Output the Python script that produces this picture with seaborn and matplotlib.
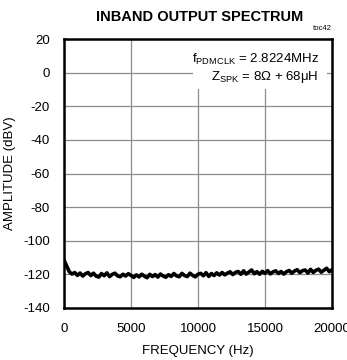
import matplotlib
matplotlib.use("Agg")
import matplotlib.pyplot as plt
import seaborn as sns
import pandas as pd

# Frequency (Hz) and amplitude (dBV)
freq_hz = list(range(0, 20001, 200))
amplitude_dbv = [
    -111.5, -115.0, -118.5, -119.8, -118.9, -120.6, -119.2, -121.0, -119.6, -118.9,
    -120.7, -119.3, -121.1, -121.6, -119.5, -120.8, -119.1, -121.3, -120.0, -119.3,
    -120.9, -121.4, -119.9, -121.0, -119.6, -120.6, -121.8, -120.3, -121.5, -119.9,
    -121.1, -122.0, -120.0, -121.3, -120.1, -121.6, -119.8, -121.0, -121.7, -120.2,
    -121.2, -119.5, -120.9, -121.4, -119.4, -120.7, -121.3, -119.3, -120.6, -121.5,
    -119.9, -119.4, -120.8, -119.0, -121.2, -119.5, -120.7, -119.1, -120.4, -118.9,
    -120.3, -119.2, -118.5, -120.1, -118.8, -118.3, -119.9, -117.9, -119.8, -118.6,
    -117.4, -119.6, -118.4, -119.9, -118.2, -119.4, -117.8, -119.7, -118.5, -117.9,
    -119.5, -118.3, -119.8, -118.4, -117.7, -119.3, -118.0, -117.2, -119.0, -117.8,
    -117.4, -119.2, -117.0, -118.8, -117.6, -116.9, -118.7, -117.5, -116.4, -118.4,
    -117.2,
]
x_ticks = [0, 5000, 10000, 15000, 20000]
y_ticks = [-140, -120, -100, -80, -60, -40, -20, 0, 20]

df = pd.DataFrame({"freq": freq_hz, "amp": amplitude_dbv})

sns.set_theme(style="white")
plt.rcParams['font.family'] = ['Liberation Sans', 'DejaVu Sans']
plt.rcParams['text.color'] = 'black'
plt.rcParams['axes.labelcolor'] = 'black'
plt.rcParams['xtick.color'] = 'black'
plt.rcParams['ytick.color'] = 'black'

fig = plt.figure(figsize=(3.47, 3.60), dpi=100)
ax = fig.add_axes([64/347, 1 - 308/360, (332-64)/347, (308-39)/360])

sns.lineplot(data=df, x="freq", y="amp", ax=ax, color="black", linewidth=2.6, zorder=3)

ax.set_xlim(0, 20000)
ax.set_ylim(-140, 20)
ax.set_xticks(x_ticks)
ax.set_yticks(y_ticks)
ax.set_xticklabels([str(v) for v in x_ticks], fontsize=9.5)
ax.set_yticklabels([str(v) for v in y_ticks], fontsize=9.5)
ax.tick_params(axis='x', length=0, pad=11)
ax.tick_params(axis='y', length=0, pad=10)
ax.grid(True, color="#8c8c8c", linewidth=0.9)
ax.set_axisbelow(True)
for s in ax.spines.values():
    s.set_color("black")
    s.set_linewidth(1.8)

ax.set_xlabel("FREQUENCY (Hz)", fontsize=9.5, labelpad=7)
ax.set_ylabel("AMPLITUDE (dBV)", fontsize=9.5, labelpad=5)

fig.text(200/347, 1 - 17/360, "INBAND OUTPUT SPECTRUM", ha="center", va="center",
         fontsize=10.5, fontweight="bold")
fig.text(332/347, 1 - 29/360, "toc42", ha="right", va="center", fontsize=5.5)

# white box behind annotation
ax.add_patch(plt.Rectangle((0.48, 0.815), 0.50, 0.18, transform=ax.transAxes,
                           facecolor="white", edgecolor="none", zorder=2))
ax.text(0.95, 0.925, r"f$_{\mathregular{PDMCLK}}$ = 2.8224MHz", transform=ax.transAxes,
        ha="right", va="center", fontsize=9.5, zorder=4)
ax.text(0.95, 0.858, r"Z$_{\mathregular{SPK}}$ = 8Ω + 68μH", transform=ax.transAxes,
        ha="right", va="center", fontsize=9.5, zorder=4)

fig.savefig("out.png", dpi=100)
